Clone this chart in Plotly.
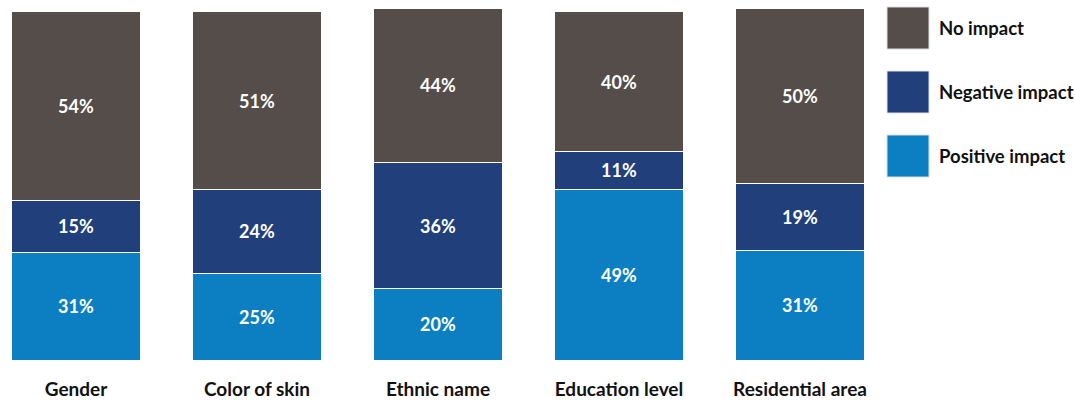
import plotly.graph_objects as go

categories = ["Gender", "Color of skin", "Ethnic name", "Education level", "Residential area"]
series_names = ["Positive impact", "Negative impact", "No impact"]
positive = [30.9, 24.9, 20.4, 48.9, 31.4]
negative = [14.9, 24.0, 36.2, 10.9, 19.1]
no_impact = [54.0, 50.9, 44.2, 40.0, 50.3]
colors = ["#0C7FC3", "#21407B", "#554D4A"]

W, H = 1075, 400
L, R, T, B = 0, 195, 0, 40
PW, PH = W - L - R, H - T - B
FONT = "Lato"
FS = 18

fig = go.Figure()
for name, vals, col in zip(series_names, [positive, negative, no_impact], colors):
    fig.add_trace(go.Bar(
        x=categories, y=vals, name=name,
        marker=dict(color=col, line=dict(color="white", width=1)),
        texttemplate="%{y:.0f}%", textposition="inside",
        insidetextanchor="middle",
        textfont=dict(family=FONT, size=FS, color="white", weight="bold"),
        showlegend=False, hoverinfo="skip",
    ))

spacing = 181.0
r0 = -76.0 / spacing
r1 = r0 + PW / spacing

fig.update_layout(
    barmode="stack", bargap=0.282,
    width=W, height=H,
    margin=dict(l=L, r=R, t=T, b=B, pad=0, autoexpand=False),
    plot_bgcolor="white", paper_bgcolor="white",
    font=dict(family=FONT),
    uniformtext=dict(minsize=FS, mode="show"),
)
fig.update_xaxes(range=[r0, r1], showgrid=False, showline=False, zeroline=False,
                 automargin=False,
                 ticks="", tickfont=dict(family=FONT, size=19, color="#111111", weight="bold"),
                 ticklabelstandoff=16)
fig.update_yaxes(range=[0, PH / 3.49], visible=False, showgrid=False, zeroline=False,
                 automargin=False)

# legend drawn manually (pixel coords -> paper)
def px_x(x):
    return (x - L) / PW

def px_y(y):
    return (H - B - y) / PH

legend_items = list(zip(series_names, colors))[::-1]
for i, (name, col) in enumerate(legend_items):
    top = 7 + i * 64
    fig.add_shape(type="rect", xref="paper", yref="paper",
                  x0=px_x(887), x1=px_x(929), y0=px_y(top + 42), y1=px_y(top),
                  fillcolor=col, line=dict(color="#dddddd", width=1), layer="above")
    fig.add_annotation(xref="paper", yref="paper", x=px_x(937), y=px_y(top + 21),
                       xanchor="left", yanchor="middle", showarrow=False,
                       text=name, font=dict(family=FONT, size=18.5, color="#111111", weight="bold"))

fig.write_html("out.html", config={"displayModeBar": False},
               post_script="document.body.style.margin='0';document.body.style.overflow='hidden';")
